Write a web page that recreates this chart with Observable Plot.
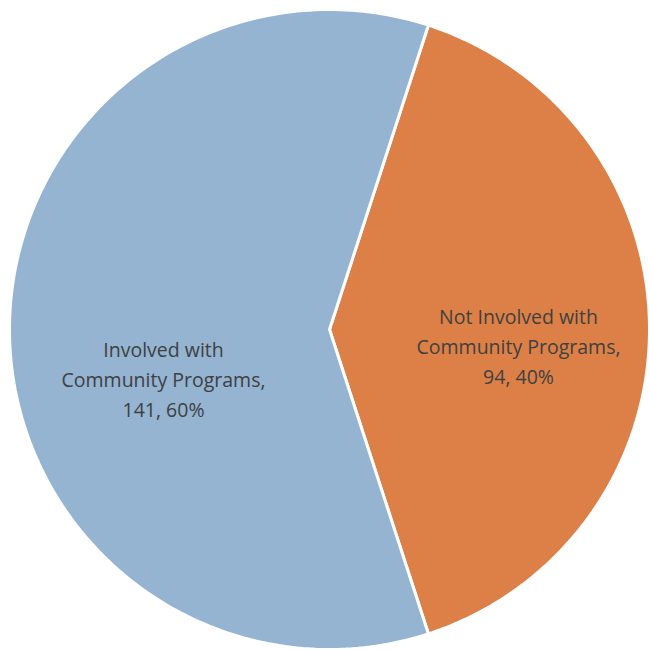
<!DOCTYPE html>
<html>
<head>
<meta charset="utf-8">
<script src="https://cdn.jsdelivr.net/npm/d3@7"></script>
<script src="https://cdn.jsdelivr.net/npm/@observablehq/plot@0.6"></script>
<style>
  html, body { margin: 0; padding: 0; background: #ffffff; }
  #chart svg { display: block; }
</style>
</head>
<body>
<div id="chart"></div>
<script>
// Data
const categories = ["Not Involved with Community Programs", "Involved with Community Programs"];
const labelLines = [["Not Involved with", "Community Programs,"], ["Involved with", "Community Programs,"]];
const values = [94, 141];
const colors = ["#dd8047", "#94b4d2"];

const total = d3.sum(values);
const rotation = 18 * Math.PI / 180;
const arcs = d3.pie().sort(null).startAngle(rotation).endAngle(rotation + 2 * Math.PI)(values);

// polygon points for each slice (unit circle, angle 0 at top, clockwise)
const polyPts = [];
arcs.forEach((a, i) => {
  const n = 200;
  polyPts.push({label: categories[i], x: 0, y: 0});
  for (let k = 0; k <= n; k++) {
    const t = a.startAngle + (a.endAngle - a.startAngle) * k / n;
    polyPts.push({label: categories[i], x: Math.sin(t), y: Math.cos(t)});
  }
  polyPts.push({label: categories[i], x: 0, y: 0});
});

const labelRows = arcs.map((a, i) => {
  const mid = (a.startAngle + a.endAngle) / 2;
  const r = 0.55;
  return {
    label: categories[i],
    x: r * Math.sin(mid),
    y: r * Math.cos(mid),
    text: labelLines[i].join("\n") + "\n" + values[i] + ", " + Math.round(values[i] / total * 100) + "%"
  };
});

const textStyle = {
  fontSize: 19.5,
  fontFamily: "'Open Sans', Lato, sans-serif",
  fill: "#404040",
  lineHeight: 1.52,
  textAnchor: "middle",
  lineAnchor: "middle"
};

const chart = Plot.plot({
  width: 649,
  height: 650,
  margin: 0,
  x: {domain: [-1, 1], range: [9, 649], axis: null},
  y: {domain: [-1, 1], range: [649, 9], axis: null},
  color: {domain: categories, range: colors},
  style: {background: "#ffffff"},
  marks: [
    Plot.line(polyPts, {x: "x", y: "y", z: "label", fill: "label", stroke: "#ffffff", strokeWidth: 3, strokeLinejoin: "miter", curve: "linear"}),
    Plot.text(labelRows.filter(d => d.label === categories[0]), {x: "x", y: "y", text: "text", dx: 13, dy: 15, ...textStyle}),
    Plot.text(labelRows.filter(d => d.label === categories[1]), {x: "x", y: "y", text: "text", dx: 10, dy: 48, ...textStyle})
  ]
});
document.getElementById("chart").appendChild(chart);
</script>
</body>
</html>
